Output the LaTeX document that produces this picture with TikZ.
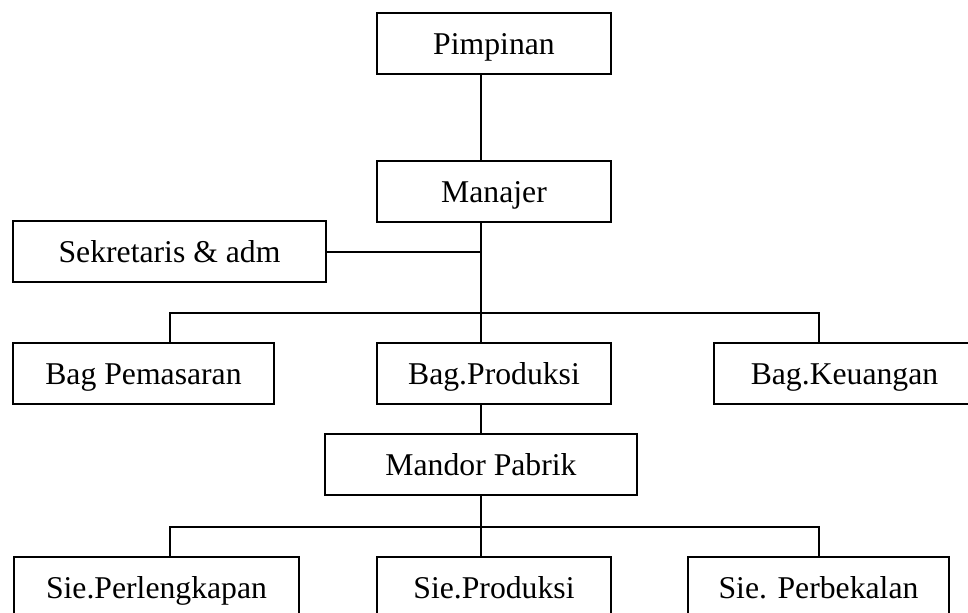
\documentclass[tikz,border=0pt]{standalone}
\usepackage{fontspec}
\setmainfont{Liberation Serif}
\tikzset{
  unit/.style={draw, line width=1pt, inner sep=0pt, minimum height=30.5pt,
    text height=13pt, text depth=2.4pt,
    font=\fontsize{15.85}{19}\selectfont},
  link/.style={line width=0.8pt}
}

\begin{document}
\begin{tikzpicture}[x=0.5pt, y=-0.5pt]
    \useasboundingbox (0, 0) rectangle (968, 613);
    \clip (0, 0) rectangle (968, 613);
    % columns of the connectors
    \coordinate (left) at (170, 0);
    \coordinate (mid) at (481, 0);
    \coordinate (right) at (819, 0);
    \coordinate (bus1) at (481, 313);
    \coordinate (bus2) at (481, 527);
    \node[unit, minimum width=117pt] (pim) at (494, 43.5) {Pimpinan};
    \node[unit, minimum width=117pt] (man) at (494, 192) {Manajer};
    \node[unit, minimum width=156.5pt] (sek) at (169.5, 252) {Sekretaris \& adm};
    \node[unit, minimum width=130.5pt] (pem) at (143.5, 373.5) {Bag Pemasaran};
    \node[unit, minimum width=117pt] (prod) at (494, 373.5) {Bag.Produksi};
    \node[unit, minimum width=130.5pt] (keu) at (844.5, 373.5) {Bag.Keuangan};
    \node[unit, minimum width=156pt] (mandor) at (481, 464.5) {Mandor Pabrik};
    \node[unit, minimum width=142.5pt] (perl) at (156.5, 587.5) {Sie.Perlengkapan};
    \node[unit, minimum width=117pt] (sprod) at (494, 587.5) {Sie.Produksi};
    \node[unit, minimum width=130.5pt] (perb) at (818.5, 587.5) {Sie. Perbekalan};
    \draw[link] (pim.south -| mid) -- (man.north -| mid);
    \draw[link] (man.south -| mid) -- (bus1);
    \draw[link] (sek.east) -- (sek.east -| mid);
    \draw[link] (pem.north -| left) -- (left |- bus1) -- (right |- bus1) -- (keu.north -| right);
    \draw[link] (bus1) -- (prod.north -| mid);
    \draw[link] (prod.south -| mid) -- (mandor.north -| mid);
    \draw[link] (mandor.south -| mid) -- (bus2);
    \draw[link] (perl.north -| left) -- (left |- bus2) -- (right |- bus2) -- (perb.north -| right);
    \draw[link] (bus2) -- (sprod.north -| mid);
  \end{tikzpicture}
\end{document}
